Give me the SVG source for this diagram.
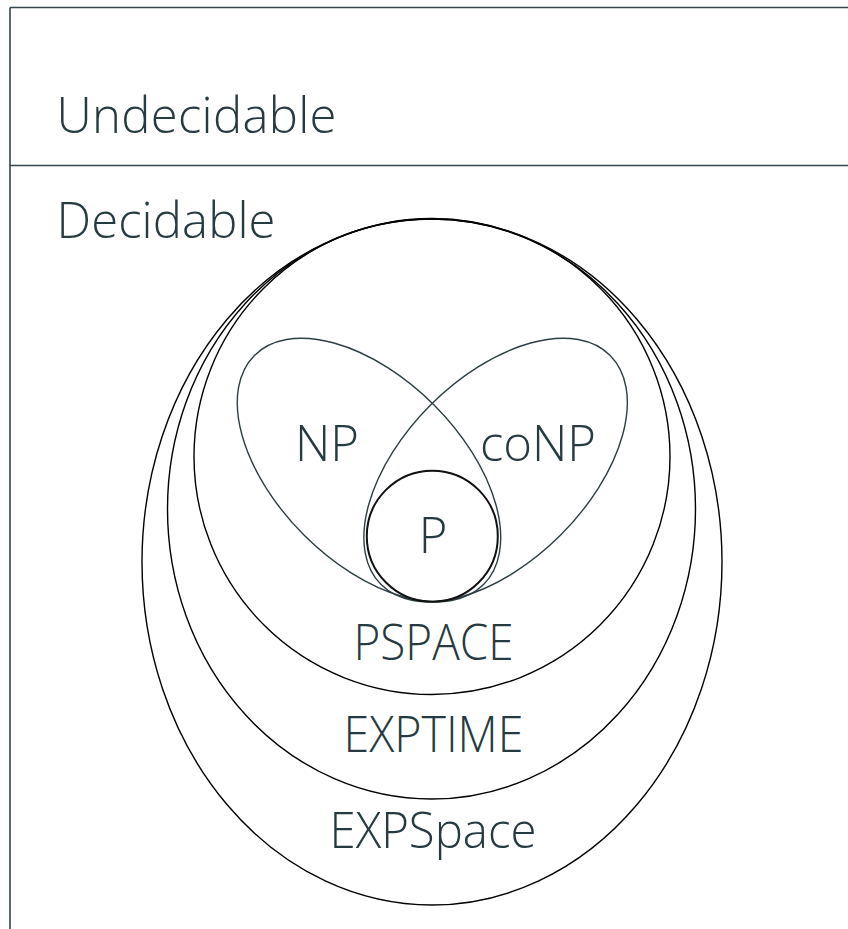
<svg xmlns="http://www.w3.org/2000/svg" width="848" height="929" viewBox="0 0 848 929">
  <style>
    .lbl { font-family: "Open Sans", "Liberation Sans", sans-serif; font-weight: 300; font-size: 49px; fill: #263b41; }
    .mid { text-anchor: middle; }
    .frame { stroke: #33454b; stroke-width: 1.6; fill: none; }
    .cls { stroke: #000; stroke-width: 1.4; fill: none; }
    .np { stroke: #2d3f44; stroke-width: 1.4; fill: none; }
    .p { stroke: #111; stroke-width: 2; fill: none; }
  </style>
  <rect width="848" height="929" fill="#fff"/>

  <!-- Frame separating undecidable and decidable regions -->
  <g id="frame">
    <line class="frame" x1="10" y1="7.5" x2="848" y2="7.5"/>
    <line class="frame" x1="10" y1="165.5" x2="848" y2="165.5"/>
    <line class="frame" x1="10" y1="7.5" x2="10" y2="929"/>
  </g>

  <g id="undecidable">
    <text class="lbl" x="56.5" y="133" textLength="280" lengthAdjust="spacing">Undecidable</text>
  </g>
  <g id="decidable">
    <text class="lbl" x="56.5" y="238" textLength="219" lengthAdjust="spacing">Decidable</text>
  </g>

  <!-- Nested complexity classes -->
  <g id="expspace">
    <ellipse class="cls" cx="432" cy="562" rx="290" ry="343"/>
    <text class="lbl mid" x="433" y="848" textLength="207" lengthAdjust="spacingAndGlyphs">EXPSpace</text>
  </g>
  <g id="exptime">
    <ellipse class="cls" cx="431.5" cy="509" rx="264" ry="290"/>
    <text class="lbl mid" x="433.5" y="752" textLength="180" lengthAdjust="spacingAndGlyphs">EXPTIME</text>
  </g>
  <g id="pspace">
    <circle class="cls" cx="432" cy="456.5" r="238"/>
    <text class="lbl mid" x="433.5" y="660" textLength="160" lengthAdjust="spacingAndGlyphs">PSPACE</text>
  </g>
  <g id="np">
    <ellipse class="np" cx="369" cy="470" rx="162" ry="92" transform="rotate(45 369 470)"/>
    <text class="lbl mid" x="327" y="461">NP</text>
  </g>
  <g id="conp">
    <ellipse class="np" cx="495.6" cy="470" rx="162" ry="92" transform="rotate(-45 495.6 470)"/>
    <text class="lbl mid" x="538" y="461">coNP</text>
  </g>
  <g id="p">
    <circle class="p" cx="432.3" cy="536.2" r="65.5"/>
    <text class="lbl mid" x="433" y="553">P</text>
  </g>

  <g id="connectors"/>
</svg>
